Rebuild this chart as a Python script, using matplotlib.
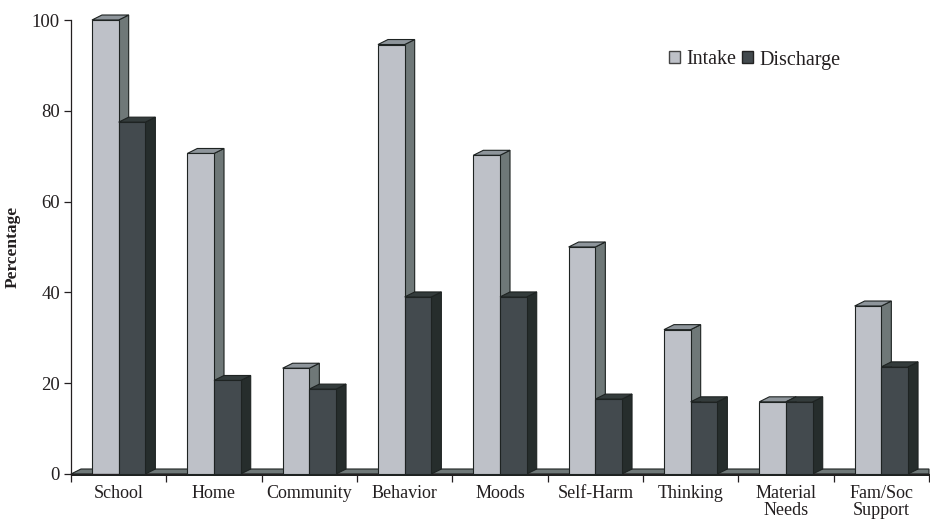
import matplotlib
matplotlib.use("Agg")
import matplotlib.pyplot as plt
from matplotlib.patches import Polygon, Patch, Rectangle

categories = ["School", "Home", "Community", "Behavior", "Moods", "Self-Harm",
              "Thinking", "Material\nNeeds", "Fam/Soc\nSupport"]
intake = [100, 70.6, 23.3, 94.6, 70.2, 50.0, 31.8, 15.9, 37.0]
discharge = [77.5, 20.6, 18.7, 39.0, 39.0, 16.5, 15.9, 15.9, 23.6]

plt.rcParams["font.family"] = ["Liberation Serif", "DejaVu Serif"]
TXT = "#231f20"

# face colours: front, side, top
INTAKE_C = ("#bec1c8", "#6f7878", "#8e959b")
DISCH_C = ("#434a4e", "#262d2c", "#343c3c")
EDGE = "#1e2322"

fig = plt.figure(figsize=(9.3, 5.25), dpi=100)
ax = fig.add_axes([71 / 930, 51 / 525, 858 / 930, 454 / 525])
ax.set_xlim(-0.5, 8.5)
ax.set_ylim(0, 100)

width = 0.28
dx = 0.105   # depth in category units
dy = 1.1     # depth in value units


def bar3d(x0, h, colors, z):
    front, side, top = colors
    ax.bar(x0, h, width, align="edge", color=front, edgecolor=EDGE,
           linewidth=0.8, zorder=z + 0.2, clip_on=False)
    x1 = x0 + width
    ax.add_patch(Polygon([(x1, 0), (x1 + dx, dy), (x1 + dx, h + dy), (x1, h)],
                         closed=True, facecolor=side, edgecolor=EDGE,
                         linewidth=0.8, zorder=z, clip_on=False))
    ax.add_patch(Polygon([(x0, h), (x0 + dx, h + dy), (x1 + dx, h + dy), (x1, h)],
                         closed=True, facecolor=top, edgecolor=EDGE,
                         linewidth=0.8, zorder=z, clip_on=False))


# floor slab
ax.add_patch(Polygon([(-0.5, 0), (-0.5 + dx, dy), (8.5, dy), (8.5, 0)],
                     closed=True, facecolor="#6f7878", edgecolor=EDGE,
                     linewidth=0.8, zorder=1, clip_on=False))
ax.add_patch(Rectangle((-0.5, -0.55), 9.0, 0.55, facecolor=EDGE,
                       edgecolor="none", zorder=1.5, clip_on=False))

for i, (a, b) in enumerate(zip(intake, discharge)):
    z = 2 + i * 2
    bar3d(i - width, a, INTAKE_C, z)
    bar3d(i, b, DISCH_C, z + 1)

ax.spines["top"].set_visible(False)
ax.spines["right"].set_visible(False)
ax.spines["left"].set_color(TXT)
ax.spines["bottom"].set_color(TXT)
ax.spines["left"].set_linewidth(0.9)
ax.spines["bottom"].set_linewidth(0.9)

ax.set_yticks(range(0, 101, 20))
ax.tick_params(axis="y", direction="out", length=5, width=0.9, colors=TXT,
               labelsize=13.5, pad=3)
ax.set_xticks([i - 0.5 for i in range(10)])
ax.set_xticklabels([])
ax.tick_params(axis="x", direction="out", length=6, width=0.9, colors=TXT)
ax.set_xticks(range(len(categories)), minor=True)
ax.set_xticklabels(categories, minor=True, fontsize=13, color=TXT,
                   linespacing=1.0)
ax.tick_params(axis="x", which="minor", length=0, pad=8)

ax.set_ylabel("Percentage", fontsize=12.5, fontweight="bold", color=TXT,
              labelpad=8)

handles = [Patch(facecolor=INTAKE_C[0], edgecolor="#444"),
           Patch(facecolor=DISCH_C[0], edgecolor="#222")]
fig.legend(handles, ["Intake", "Discharge"], loc="center left",
           bbox_to_anchor=(659 / 930, 1 - 60 / 525), ncol=2, frameon=False,
           fontsize=14.5, handlelength=0.55, handleheight=0.55,
           handletextpad=0.3, columnspacing=0.3, labelcolor=TXT,
           borderpad=0)

fig.savefig("out.png", dpi=100)
